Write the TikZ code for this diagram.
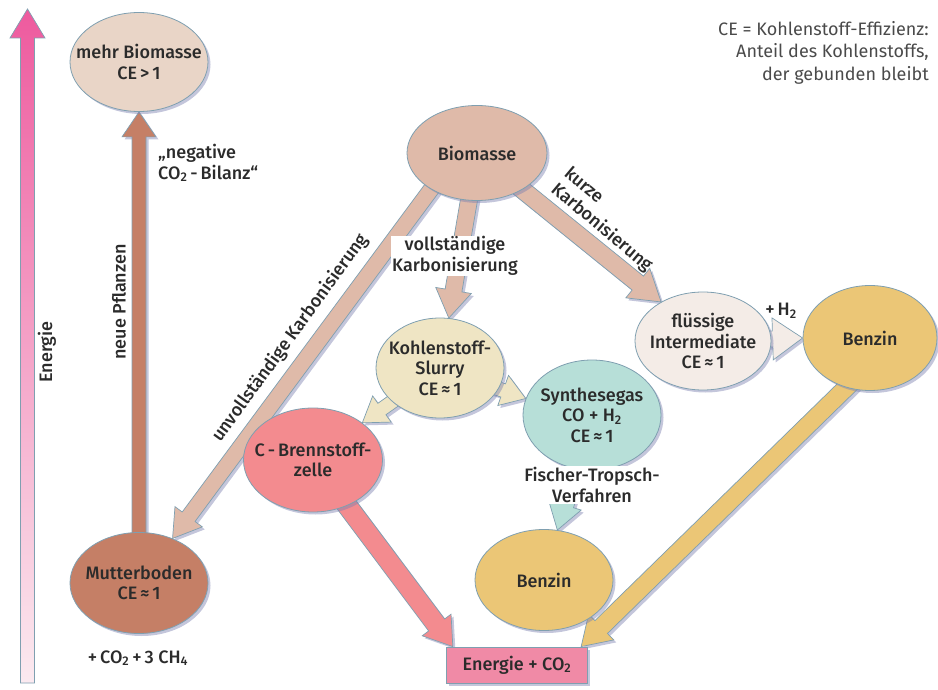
\documentclass[tikz,border=0pt]{standalone}
\usepackage{fontspec}
\setmainfont{Fira Sans}[BoldFont={* Medium}]
\usetikzlibrary{calc,shadows,shapes.geometric}
\pgfdeclarelayer{background}
\pgfsetlayers{background,main}

\definecolor{rimblue}{HTML}{7F9FB0}
\definecolor{shadowblue}{HTML}{7C80B0}
\definecolor{txtgray}{HTML}{2B2B2B}
\definecolor{notegray}{HTML}{4A4A4A}
\definecolor{biocol}{HTML}{DFBAA9}
\definecolor{morebiocol}{HTML}{E9D5C7}
\definecolor{soilcol}{HTML}{C57F66}
\definecolor{slurrycol}{HTML}{EFE5C4}
\definecolor{syncol}{HTML}{B7DFD8}
\definecolor{liqcol}{HTML}{F4ECE7}
\definecolor{fuelcol}{HTML}{EBC676}
\definecolor{cellcol}{HTML}{F38B8F}
\definecolor{energycol}{HTML}{F08AA6}
\definecolor{axistop}{HTML}{EE5A9E}
\definecolor{axisbot}{HTML}{FBEAF0}

\tikzset{
  softshadow/.style={drop shadow={shadow xshift=2.5pt, shadow yshift=-2.5pt, fill=shadowblue, opacity=0.45}},
  blob/.style={ellipse, draw=rimblue, line width=0.8pt, softshadow},
  fatline/.style={draw=rimblue, line width=0.7pt, softshadow},
  lbl/.style={font=\fontsize{18}{20.5}\selectfont\bfseries, text=txtgray, align=center, inner sep=1pt}
}

% fat arrow: colour, start, tip, half shaft, half head, head length
\newcommand{\fatarrow}[6]{%
  \path (#2) coordinate (fa-s) (#3) coordinate (fa-e);
  \path ($(fa-e)!#6!(fa-s)$) coordinate (fa-b);
  \filldraw[fatline, fill=#1]
    ($(fa-s)!#4!90:(fa-e)$) -- ($(fa-b)!#4!90:(fa-e)$) -- ($(fa-b)!#5!90:(fa-e)$)
    -- (fa-e)
    -- ($(fa-b)!#5!-90:(fa-e)$) -- ($(fa-b)!#4!-90:(fa-e)$) -- ($(fa-s)!#4!-90:(fa-e)$) -- cycle;
}

\begin{document}
\begin{tikzpicture}[x=1pt, y=-1pt]
\useasboundingbox (0,0) rectangle (938,690);

% energy axis
\shade[top color=axistop, bottom color=axisbot, draw=rimblue, line width=0.7pt]
  (20.5,683) -- (20.5,38) -- (10,38) -- (27.5,9) -- (45,38) -- (34.5,38) -- (34.5,683) -- cycle;
\node[lbl, rotate=90] (energyaxis) at (47,352) {Energie};

% ellipses
\node[blob, fill=morebiocol, minimum width=138pt, minimum height=99pt] (morebio) at (139,62) {};
\node[lbl] (morebio-t) at (morebio) {mehr Biomasse\\CE\,>\,1};
\node[blob, fill=biocol, minimum width=140pt, minimum height=95pt] (bio) at (477,153) {};
\node[lbl] (bio-t) at (bio) {Biomasse};
\node[blob, fill=soilcol, minimum width=138pt, minimum height=101pt] (soil) at (139,583) {};
\node[lbl] (soil-t) at (soil) {Mutterboden\\CE\,≈\,1};
\node[blob, fill=slurrycol, minimum width=128pt, minimum height=100pt] (slurry) at (440,368) {};
\node[lbl] (slurry-t) at (slurry) {Kohlenstoff-\\Slurry\\CE\,≈\,1};
\node[blob, fill=syncol, minimum width=138pt, minimum height=110pt] (syngas) at (592,415) {};
\node[lbl] (syngas-t) at (syngas) {Synthesegas\\CO + H\textsubscript{2}\\CE\,≈\,1};
\node[blob, fill=liqcol, minimum width=136pt, minimum height=98pt] (liquid) at (703,341) {};
\node[lbl] (liquid-t) at (liquid) {flüssige\\Intermediate\\CE\,≈\,1};
\node[blob, fill=fuelcol, minimum width=134pt, minimum height=105pt] (fuelright) at (870,338) {};
\node[lbl] (fuelright-t) at (fuelright) {Benzin};
\node[blob, fill=cellcol, minimum width=139pt, minimum height=104pt] (cell) at (313,460) {};
\node[lbl] (cell-t) at (cell) {C\,-\,Brennstoff-\\zelle};
\node[blob, fill=fuelcol, minimum width=138pt, minimum height=101pt] (fuelbottom) at (544,580) {};
\node[lbl] (fuelbottom-t) at (fuelbottom) {Benzin};
\node[lbl, draw=rimblue, line width=0.8pt, fill=energycol, minimum width=141pt, minimum height=36pt, softshadow] (energy) at (517,665) {Energie + CO\textsubscript{2}};

% arrows
\begin{pgfonlayer}{background}
\fatarrow{soilcol}{soil}{morebio.south}{7pt}{17pt}{25pt}
\fatarrow{biocol}{$(bio)+(-19,0)$}{soil.53}{8pt}{17pt}{27pt}
\fatarrow{biocol}{bio}{slurry.80}{8.5pt}{18pt}{28pt}
\fatarrow{biocol}{bio}{liquid.137}{9pt}{19pt}{30pt}
\fatarrow{liqcol}{liquid}{fuelright.180}{8pt}{21pt}{30pt}
\fatarrow{slurrycol}{slurry}{cell.37}{7pt}{16pt}{24pt}
\fatarrow{slurrycol}{slurry}{syngas.166}{7pt}{16pt}{24pt}
\fatarrow{syncol}{syngas}{fuelbottom.75}{9pt}{17pt}{26pt}
\fatarrow{cellcol}{cell}{energy.164}{10pt}{18pt}{27pt}
\fatarrow{fuelcol}{$(fuelright)+(27,0)$}{energy.16}{9pt}{18pt}{28pt}
\end{pgfonlayer}

% arrow labels
\node[lbl, anchor=west, align=left] (negco) at (157,163) {„negative\\CO\textsubscript{2}\,-\,Bilanz“};
\node[lbl, rotate=90] (plants) at (119,302) {neue Pflanzen};
\node[lbl, rotate=54] (partial) at (290,338) {unvollständige Karbonisierung};
\node[lbl, fill=white] (full) at (455,256) {vollständige\\Karbonisierung};
\node[lbl, rotate=-40, align=left] (short) at (608,220) {kurze\\Karbonisierung};
\node[lbl] (hydro) at (781,311) {+\,H\textsubscript{2}};
\node[lbl, fill=white] (fischer) at (592,485) {Fischer-Tropsch-\\Verfahren};
\node[lbl] (gases) at (138,658) {+\,CO\textsubscript{2}\,+\,3 CH\textsubscript{4}};

% note
\node[anchor=north east, align=right, inner sep=0pt, text=notegray, font=\fontsize{18}{22.5}\selectfont] (note) at (929,21)
  {CE = Kohlenstoff-Effizienz:\\Anteil des Kohlenstoffs,\\der gebunden bleibt};
\end{tikzpicture}
\end{document}
